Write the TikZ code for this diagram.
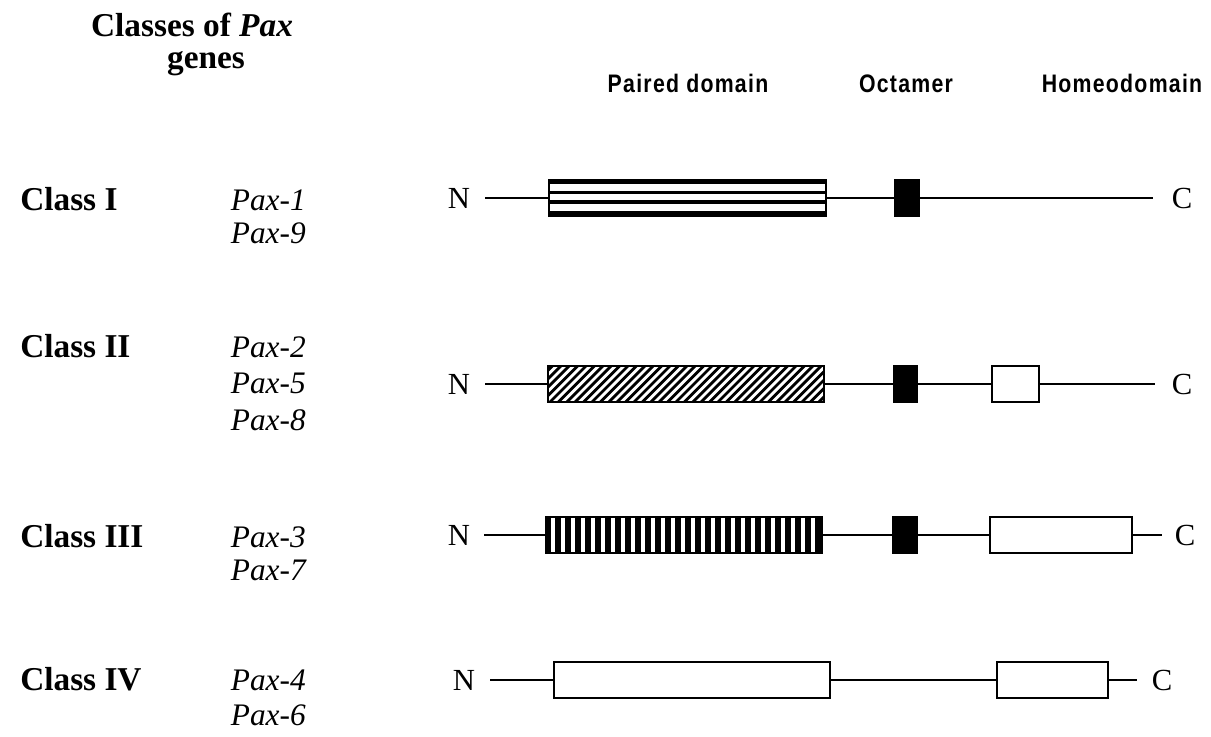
\documentclass[tikz,border=0pt]{standalone}
\usepackage{fontspec}
\setmainfont{Liberation Serif}
\newfontfamily\hdfont{Liberation Sans}[FakeStretch=0.84, LetterSpace=5]
\usetikzlibrary{calc}
\begin{document}
\begin{tikzpicture}[x=0.75pt,y=-0.75pt,
  cls/.style={font=\fontsize{25}{28}\selectfont\bfseries, anchor=base west, inner sep=0},
  pax/.style={font=\fontsize{23.5}{26}\selectfont\itshape, anchor=base east, inner sep=0},
  hd/.style={font=\hdfont\fontsize{19}{21}\selectfont\bfseries, anchor=base, inner sep=0},
  term/.style={font=\fontsize{23}{26}\selectfont, inner sep=0},
  dombox/.style={draw, line width=1.1pt, minimum height=27pt, inner sep=0, fill=white},
  pdbox/.style={dombox, minimum width=207pt},
  octbox/.style={draw, fill=black, line width=1pt, minimum height=27pt, minimum width=18pt, inner sep=0},
  ln/.style={line width=1.1pt}]
\useasboundingbox (0,0) rectangle (1211,736);

% titles
\node[font=\fontsize{25}{28}\selectfont\bfseries, anchor=base, inner sep=0] (t1) at (192,36) {Classes of \textit{Pax}};
\node[font=\fontsize{25}{28}\selectfont\bfseries, anchor=base, inner sep=0] (t2) at (206,68) {genes};
\node[hd] (h1) at (688,92) {Paired domain};
\node[hd] (h2) at (906,92) {Octamer};
\node[hd] (h3) at (1122,92) {Homeodomain};

% class labels
\node[cls] (c1) at (20,210) {Class I};
\node[pax] (g1) at (306,210) {Pax-1};
\node[pax] (g9) at (306,243) {Pax-9};
\node[cls] (c2) at (20,357) {Class II};
\node[pax] (g2) at (306,357) {Pax-2};
\node[pax] (g5) at (306,393) {Pax-5};
\node[pax] (g8) at (306,430) {Pax-8};
\node[cls] (c3) at (20,547) {Class III};
\node[pax] (g3) at (306,547) {Pax-3};
\node[pax] (g7) at (306,580) {Pax-7};
\node[cls] (c4) at (20,690) {Class IV};
\node[pax] (g4) at (306,690) {Pax-4};
\node[pax] (g6) at (306,725) {Pax-6};

% Row 1
\node[term] (n1) at (459,198) {N};
\node[term] (cc1) at (1182,198) {C};
\coordinate (s1) at (485,198);
\coordinate (e1) at (1153,198);
\node[pdbox, fill=black] (p1) at (687.5,198) {};
\node[octbox] (o1) at (907,198) {};
\foreach \a/\b in {5/11.5, 15/21, 25/31.5}
  \fill[white] ($(p1.north west)+(1.5,\a)$) rectangle ($(p1.north east)+(-1.5,\b)$);
\draw[line width=1.1pt] (p1.south west) rectangle (p1.north east);
\draw[ln] (s1) -- (p1);
\draw[ln] (p1) -- (o1);
\draw[ln] (o1) -- (e1);

% Row 2
\node[term] (n2) at (459,384) {N};
\node[term] (cc2) at (1182,384) {C};
\coordinate (s2) at (485,384);
\coordinate (e2) at (1155,384);
\node[pdbox] (p2) at (686,384) {};
\node[octbox] (o2) at (905.5,384) {};
\node[dombox, minimum width=35.25pt] (hb2) at (1015.5,384) {};
\begin{scope}
  \clip (p2.south west) rectangle (p2.north east);
  \foreach \i in {0,...,38}
    \draw[line width=2.1pt] ([xshift=\i*6.3pt-30pt]p2.south west) -- ++(40,-40);
\end{scope}
\draw[line width=1.1pt] (p2.south west) rectangle (p2.north east);
\draw[ln] (s2) -- (p2);
\draw[ln] (p2) -- (o2);
\draw[ln] (o2) -- (hb2);
\draw[ln] (hb2) -- (e2);

% Row 3
\node[term] (n3) at (459,535) {N};
\node[term] (cc3) at (1185,535) {C};
\coordinate (s3) at (484,535);
\coordinate (e3) at (1162,535);
\node[pdbox] (p3) at (684,535) {};
\node[octbox] (o3) at (905,535) {};
\node[dombox, minimum width=106.5pt] (hb3) at (1061,535) {};
\foreach \i in {0,...,27}
  \fill ([xshift=\i*7.5pt]p3.south west) rectangle ++(6,-36);
\draw[line width=1.1pt] (p3.south west) rectangle (p3.north east);
\draw[ln] (s3) -- (p3);
\draw[ln] (p3) -- (o3);
\draw[ln] (o3) -- (hb3);
\draw[ln] (hb3) -- (e3);

% Row 4
\node[term] (n4) at (464,680) {N};
\node[term] (cc4) at (1162,680) {C};
\coordinate (s4) at (490,680);
\coordinate (e4) at (1137,680);
\node[pdbox] (p4) at (692,680) {};
\node[dombox, minimum width=83.25pt] (hb4) at (1052.5,680) {};
\draw[ln] (s4) -- (p4);
\draw[ln] (p4) -- (hb4);
\draw[ln] (hb4) -- (e4);
\end{tikzpicture}
\end{document}
